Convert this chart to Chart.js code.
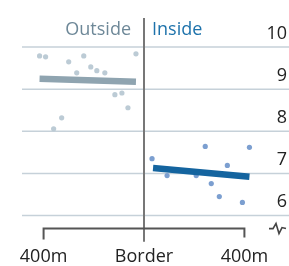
<!DOCTYPE html>
<html>
<head>
<meta charset="utf-8">
<script src="https://cdn.jsdelivr.net/npm/chart.js@4.4.1/dist/chart.umd.min.js"></script>
<style>
  html, body { margin: 0; padding: 0; background: #fff; }
  #wrap { width: 289px; height: 266px; }
</style>
</head>
<body>
<div id="wrap"><canvas id="chart" width="289" height="266"></canvas></div>
<script>
// ==================== DATA ====================
// distance from the border in metres (negative = outside), score on the y axis
const outsideX = [-416, -392, -300, -240, -268, -212, -188, -156, -32, -116, -88, -64, -328, -360];
const outsideY = [9.79, 9.77, 9.65, 9.79, 9.39, 9.53, 9.44, 9.39, 9.84, 8.87, 8.91, 8.56, 8.32, 8.06];
const insideX = [32, 92, 208, 244, 332, 268, 300, 392, 420];
const insideY = [7.35, 6.95, 6.95, 7.64, 7.19, 6.76, 6.45, 6.31, 7.62];
const outsideTrendX = [-416, -32];
const outsideTrendY = [9.25, 9.18];
const insideTrendX = [36, 420];
const insideTrendY = [7.13, 6.92];
const yTicks = [10, 9, 8, 7, 6];
const xTicks = [-400, 0, 400];
const xTickLabels = ['400m', 'Border', '400m'];
const sideLabels = ['Outside', 'Inside'];

const FONT = '"Open Sans", "DejaVu Sans", sans-serif';
const toPts = (xs, ys) => xs.map((x, i) => ({ x, y: ys[i] }));

// ==================== DECORATION PLUGIN ====================
const decor = {
    id: 'decor',
    beforeDatasetsDraw(chart) {
        const { ctx, chartArea, scales: { x, y } } = chart;
        ctx.save();
        // gridlines, running off to the right edge
        ctx.strokeStyle = '#c6d1d9';
        ctx.lineWidth = 1.5;
        yTicks.forEach(v => {
            const py = y.getPixelForValue(v);
            ctx.beginPath();
            ctx.moveTo(chartArea.left, py);
            ctx.lineTo(chart.width, py);
            ctx.stroke();
        });
        // tick labels sit above their lines
        ctx.font = '18px ' + FONT;
        ctx.fillStyle = '#222';
        ctx.textAlign = 'right';
        ctx.textBaseline = 'alphabetic';
        yTicks.forEach(v => {
            ctx.fillText(String(v), chart.width - 2, y.getPixelForValue(v) - 8.5);
        });
        // border line
        const bx = x.getPixelForValue(0);
        ctx.strokeStyle = '#777';
        ctx.lineWidth = 2;
        ctx.beginPath();
        ctx.moveTo(bx, y.getPixelForValue(10.69));
        ctx.lineTo(bx, y.getPixelForValue(5.38));
        ctx.stroke();
        // distance bracket
        const by = y.getPixelForValue(5.69);
        const x0 = x.getPixelForValue(xTicks[0]);
        const x2 = x.getPixelForValue(xTicks[2]);
        ctx.strokeStyle = '#555';
        ctx.lineWidth = 2;
        ctx.beginPath();
        ctx.moveTo(x0, by + 11);
        ctx.lineTo(x0, by);
        ctx.lineTo(x2, by);
        ctx.lineTo(x2, by + 9);
        ctx.stroke();
        // broken-axis squiggle
        ctx.lineWidth = 1.6;
        ctx.strokeStyle = '#444';
        const sx = chart.width - 20;
        ctx.beginPath();
        ctx.moveTo(sx, by);
        ctx.lineTo(sx + 4, by);
        ctx.lineTo(sx + 7, by - 5);
        ctx.lineTo(sx + 10, by + 5);
        ctx.lineTo(sx + 13, by - 1);
        ctx.lineTo(sx + 17, by);
        ctx.stroke();
        // x labels
        ctx.fillStyle = '#222';
        ctx.textAlign = 'center';
        xTicks.forEach((v, i) => {
            ctx.fillText(xTickLabels[i], x.getPixelForValue(v), by + 33);
        });
        // side headers
        ctx.textAlign = 'right';
        ctx.fillStyle = '#6e8898';
        ctx.fillText(sideLabels[0], bx - 13, y.getPixelForValue(10.29));
        ctx.textAlign = 'left';
        ctx.fillStyle = '#1d72ab';
        ctx.fillText(sideLabels[1], bx + 8, y.getPixelForValue(10.29));
        ctx.restore();
    }
};

// ==================== CHART ====================
new Chart(document.getElementById('chart'), {
    type: 'scatter',
    data: {
        datasets: [
            {
                data: toPts(outsideTrendX, outsideTrendY),
                showLine: true,
                borderColor: '#8fa4b0',
                borderWidth: 6.5,
                borderCapStyle: 'butt',
                pointRadius: 0,
                order: 1
            },
            {
                data: toPts(insideTrendX, insideTrendY),
                showLine: true,
                borderColor: '#14649f',
                borderWidth: 6.5,
                borderCapStyle: 'butt',
                pointRadius: 0,
                order: 1
            },
            {
                data: toPts(outsideX, outsideY),
                backgroundColor: '#bccbd5',
                borderWidth: 0,
                pointRadius: 2.6,
                order: 2
            },
            {
                data: toPts(insideX, insideY),
                backgroundColor: '#7c9fd0',
                borderWidth: 0,
                pointRadius: 2.6,
                order: 2
            }
        ]
    },
    options: {
        responsive: false,
        animation: false,
        layout: { padding: { left: 22, right: 23, top: 5, bottom: 21 } },
        plugins: { legend: { display: false }, tooltip: { enabled: false } },
        scales: {
            x: { type: 'linear', min: -486, max: 486, display: false },
            y: { type: 'linear', min: 5.3, max: 11, display: false }
        }
    },
    plugins: [decor]
});
</script>
</body>
</html>
